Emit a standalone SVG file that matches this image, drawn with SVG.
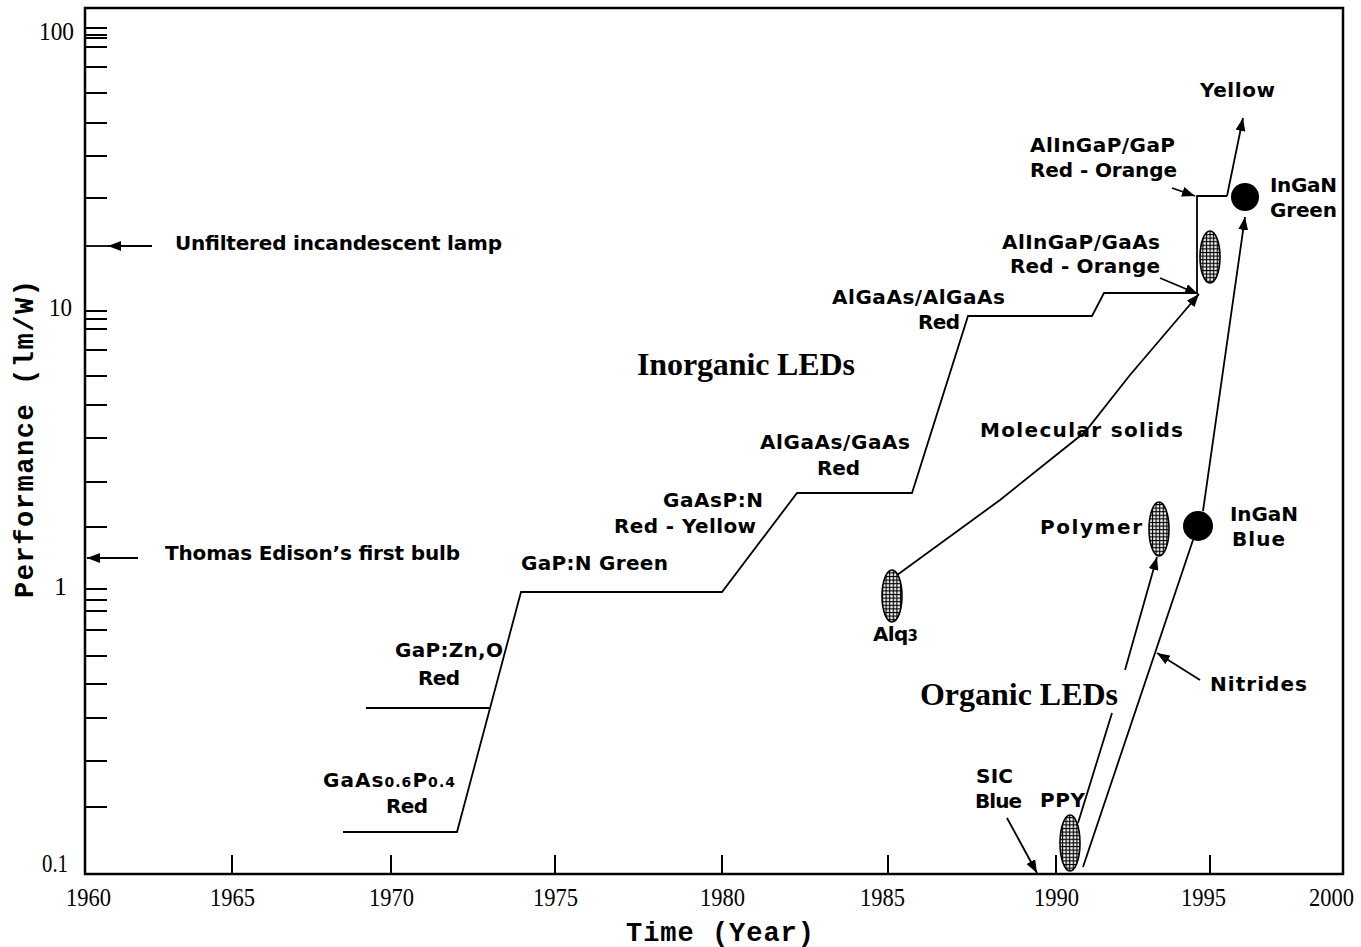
<svg xmlns="http://www.w3.org/2000/svg" width="1361" height="947" viewBox="0 0 1361 947">
<style>
.lbl{font-family:"DejaVu Sans","Liberation Sans",sans-serif;font-weight:bold;font-size:20px;fill:#000}
.big{font-family:"Liberation Serif",serif;font-weight:bold;font-size:32px;fill:#000}
.num{font-family:"Liberation Serif",serif;font-size:26px;fill:#000}
.ax{font-family:"Liberation Mono",monospace;font-weight:bold;font-size:27px;fill:#000}
.ln{fill:none;stroke:#000;stroke-width:1.8}
.tk{stroke:#000;stroke-width:2}
.arr{fill:none;stroke:#000;stroke-width:1.8;marker-end:url(#ah)}
.hat{fill:url(#grid);stroke:#000;stroke-width:1.6}
</style>
<defs>
<marker id="ah" markerUnits="userSpaceOnUse" markerWidth="14" markerHeight="10" refX="13" refY="5" orient="auto">
<path d="M0,0 L13,5 L0,10 z" fill="#000"/>
</marker>
<pattern id="grid" patternUnits="userSpaceOnUse" width="3.6" height="3.6">
<rect width="3.6" height="3.6" fill="#000"/>
<rect x="1.1" y="1.1" width="2.4" height="2.4" fill="#fff"/>
</pattern>
</defs>
<rect width="1361" height="947" fill="#fff"/>
<g id="frame">
<rect x="85" y="8" width="1258" height="866" fill="none" stroke="#000" stroke-width="2.5"/>
<g class="tk">
<line x1="85" y1="28" x2="107" y2="28"/><line x1="85" y1="35" x2="107" y2="35"/><line x1="85" y1="38" x2="107" y2="38"/><line x1="85" y1="47" x2="107" y2="47"/><line x1="85" y1="67" x2="107" y2="67"/><line x1="85" y1="93" x2="107" y2="93"/><line x1="85" y1="123" x2="107" y2="123"/><line x1="85" y1="156" x2="107" y2="156"/><line x1="85" y1="198" x2="107" y2="198"/>
<line x1="85" y1="311" x2="107" y2="311"/><line x1="85" y1="319" x2="107" y2="319"/><line x1="85" y1="329" x2="107" y2="329"/><line x1="85" y1="350" x2="107" y2="350"/><line x1="85" y1="376" x2="107" y2="376"/><line x1="85" y1="405" x2="107" y2="405"/><line x1="85" y1="438" x2="107" y2="438"/><line x1="85" y1="482" x2="107" y2="482"/><line x1="85" y1="527" x2="107" y2="527"/>
<line x1="85" y1="589" x2="107" y2="589"/><line x1="85" y1="600" x2="107" y2="600"/><line x1="85" y1="611" x2="107" y2="611"/><line x1="85" y1="630" x2="107" y2="630"/><line x1="85" y1="656" x2="107" y2="656"/><line x1="85" y1="684" x2="107" y2="684"/><line x1="85" y1="718" x2="107" y2="718"/><line x1="85" y1="761" x2="107" y2="761"/><line x1="85" y1="807" x2="107" y2="807"/>
<line x1="232" y1="855" x2="232" y2="874"/><line x1="391" y1="855" x2="391" y2="874"/><line x1="555" y1="855" x2="555" y2="874"/><line x1="722" y1="855" x2="722" y2="874"/><line x1="888" y1="855" x2="888" y2="874"/><line x1="1056" y1="855" x2="1056" y2="874"/><line x1="1210" y1="855" x2="1210" y2="874"/>
</g>
<text class="num" x="74" y="40" text-anchor="end" textLength="35" lengthAdjust="spacingAndGlyphs">100</text>
<text class="num" x="72" y="316" text-anchor="end" textLength="23" lengthAdjust="spacingAndGlyphs">10</text>
<text class="num" x="67" y="595" text-anchor="end">1</text>
<text class="num" x="68" y="872" text-anchor="end" textLength="26" lengthAdjust="spacingAndGlyphs">0.1</text>
<text class="num" x="66" y="906" textLength="45" lengthAdjust="spacingAndGlyphs">1960</text>
<text class="num" x="210" y="906" textLength="45" lengthAdjust="spacingAndGlyphs">1965</text>
<text class="num" x="369" y="906" textLength="45" lengthAdjust="spacingAndGlyphs">1970</text>
<text class="num" x="533" y="906" textLength="45" lengthAdjust="spacingAndGlyphs">1975</text>
<text class="num" x="700" y="906" textLength="45" lengthAdjust="spacingAndGlyphs">1980</text>
<text class="num" x="860" y="906" textLength="45" lengthAdjust="spacingAndGlyphs">1985</text>
<text class="num" x="1034" y="906" textLength="45" lengthAdjust="spacingAndGlyphs">1990</text>
<text class="num" x="1181" y="906" textLength="45" lengthAdjust="spacingAndGlyphs">1995</text>
<text class="num" x="1309" y="906" textLength="45" lengthAdjust="spacingAndGlyphs">2000</text>
<text class="ax" x="720" y="941" text-anchor="middle" textLength="188">Time (Year)</text>
<text class="ax" transform="translate(33,439) rotate(-90)" text-anchor="middle" textLength="318">Performance (lm/W)</text>
</g>
<g id="connectors">
<path class="ln" d="M343,832 H457 L521,592 H722 L797,493 H912 L968,316 H1092 L1104,293 H1197 V196 H1227"/>
<path class="ln" d="M366,708 H489"/>
<path class="arr" d="M1227,196 L1243,118"/>
<path class="arr" d="M893,578 L1000,500 L1085,432 L1130,375 L1199,294"/>
<path class="arr" d="M1078,823 L1112,713 M1125,670 L1157,557"/>
<path class="ln" d="M1083,867 L1193,540"/>
<path class="arr" d="M1203,511 L1245,217"/>
<path class="arr" d="M1200,680 L1157,653"/>
<path class="arr" d="M1172,188 L1195,196"/>
<path class="arr" d="M1160,278 L1198,294"/>
<path class="arr" d="M1007,818 L1037,873"/>
<path class="ln" d="M86,246 H110"/>
<path class="arr" d="M152,246 L108,246"/>
<path class="arr" d="M138,558 L87,558"/>
</g>
<g id="node-gaasp"><text class="lbl" x="323" y="787" textLength="132">GaAs<tspan font-size="14">0.6</tspan>P<tspan font-size="14">0.4</tspan></text><text class="lbl" x="386" y="813" textLength="42">Red</text></g>
<g id="node-gapzno"><text class="lbl" x="395" y="657" textLength="108">GaP:Zn,O</text><text class="lbl" x="418" y="685" textLength="42">Red</text></g>
<g id="node-gapn"><text class="lbl" x="521" y="570" textLength="147">GaP:N Green</text></g>
<g id="node-gaaspn"><text class="lbl" x="663" y="507" textLength="100">GaAsP:N</text><text class="lbl" x="614" y="533" textLength="142">Red - Yellow</text></g>
<g id="node-algaas-gaas"><text class="lbl" x="760" y="449" textLength="150">AlGaAs/GaAs</text><text class="lbl" x="817" y="475" textLength="43">Red</text></g>
<g id="node-algaas-algaas"><text class="lbl" x="832" y="304" textLength="173">AlGaAs/AlGaAs</text><text class="lbl" x="918" y="329" textLength="42">Red</text></g>
<g id="node-inorganic"><text class="big" x="637" y="375" textLength="218">Inorganic LEDs</text></g>
<g id="node-organic"><text class="big" x="920" y="705" textLength="198">Organic LEDs</text></g>
<g id="node-alingap-gaas"><ellipse class="hat" cx="1210" cy="257" rx="10" ry="26"/><text class="lbl" x="1002" y="249" textLength="158">AlInGaP/GaAs</text><text class="lbl" x="1010" y="273" textLength="150">Red - Orange</text></g>
<g id="node-alingap-gap"><text class="lbl" x="1030" y="152" textLength="145">AlInGaP/GaP</text><text class="lbl" x="1030" y="177" textLength="147">Red - Orange</text></g>
<g id="node-yellow"><text class="lbl" x="1200" y="97" textLength="75">Yellow</text></g>
<g id="node-ingan-green"><circle cx="1245" cy="197" r="14" fill="#000"/><text class="lbl" x="1270" y="192" textLength="67">InGaN</text><text class="lbl" x="1270" y="217" textLength="67">Green</text></g>
<g id="node-molecular"><text class="lbl" x="980" y="437" textLength="203">Molecular solids</text></g>
<g id="node-alq3"><ellipse class="hat" cx="892" cy="596" rx="10" ry="26"/><text class="lbl" x="873" y="641" textLength="45">Alq<tspan font-size="15">3</tspan></text></g>
<g id="node-polymer"><ellipse class="hat" cx="1159" cy="529" rx="10" ry="27"/><text class="lbl" x="1040" y="534" textLength="102">Polymer</text></g>
<g id="node-ingan-blue"><circle cx="1198" cy="526" r="15" fill="#000"/><text class="lbl" x="1230" y="521" textLength="68">InGaN</text><text class="lbl" x="1232" y="546" textLength="53">Blue</text></g>
<g id="node-nitrides"><text class="lbl" x="1210" y="691" textLength="97">Nitrides</text></g>
<g id="node-ppv"><ellipse class="hat" cx="1070" cy="843" rx="10" ry="28"/><text class="lbl" x="1040" y="807" textLength="45">PPY</text></g>
<g id="node-sic"><text class="lbl" x="976" y="783" textLength="37">SIC</text><text class="lbl" x="975" y="808" textLength="47">Blue</text></g>
<g id="node-lamp"><text class="lbl" x="175" y="250" textLength="327">Unfiltered incandescent lamp</text></g>
<g id="node-edison"><text class="lbl" x="165" y="560" textLength="295">Thomas Edison’s first bulb</text></g>
</svg>
